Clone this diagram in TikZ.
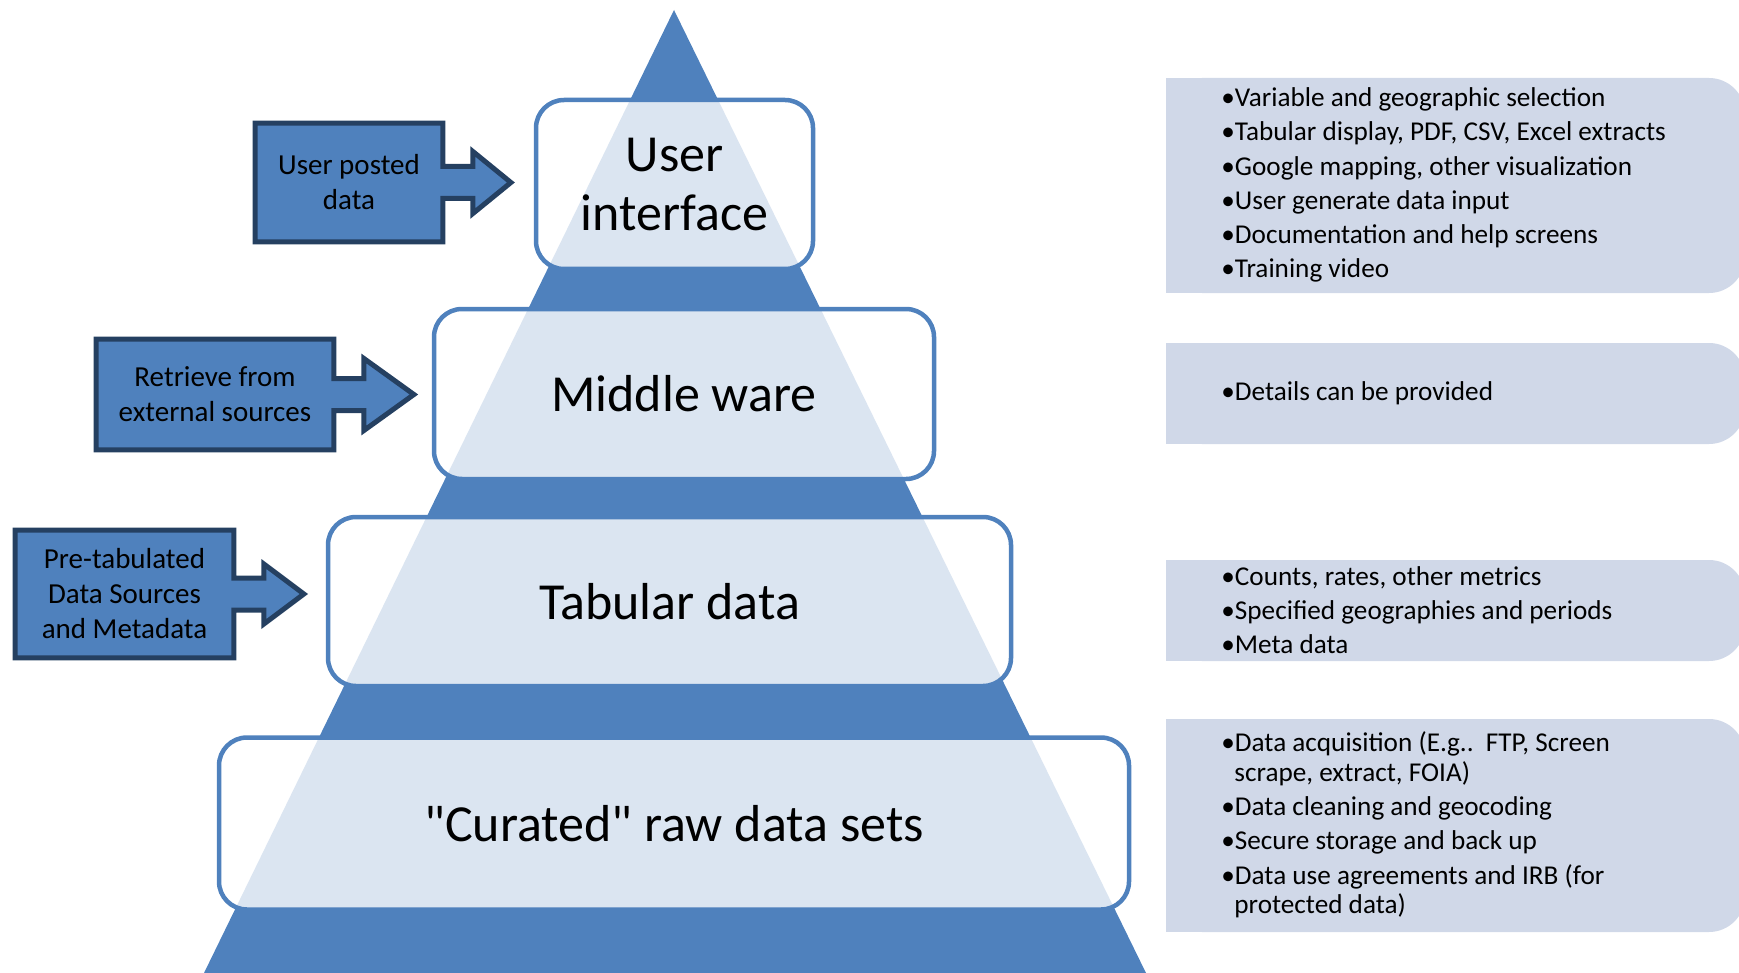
\documentclass[tikz,border=0pt]{standalone}
\usepackage{fontspec}
\setmainfont{Carlito}[Ligatures=TeXOff]
\usetikzlibrary{backgrounds}
\definecolor{pyrblue}{RGB}{79,129,189}
\definecolor{navy}{RGB}{37,64,97}
\definecolor{notefill}{RGB}{208,216,232}
\tikzset{
  layer/.style={draw=pyrblue, line width=2.25pt, fill=white, fill opacity=0.8, text opacity=1,
    rounded corners=14pt, align=center, inner sep=0pt, font=\fontsize{26}{29.5}\selectfont},
  srcbox/.style={inner sep=0pt, align=center, font=\fontsize{14.5}{17.5}\selectfont},
  srcline/.style={fill=pyrblue, draw=navy, line width=2.5pt, line join=miter},
  notetext/.style={anchor=west, inner sep=0pt, align=left, font=\fontsize{13.6}{14.75}\selectfont}
}
\newcommand{\srcarrow}[3]{%
  \path[srcline] (#1.north west) -- (#1.north east) -- ([yshift=8pt]#1.east)
    -- ([xshift=15pt,yshift=8pt]#1.east) -- ([xshift=15pt,yshift=#2]#1.east)
    -- ([xshift=#3]#1.east) -- ([xshift=15pt,yshift=-#2]#1.east)
    -- ([xshift=15pt,yshift=-8pt]#1.east) -- ([yshift=-8pt]#1.east)
    -- (#1.south east) -- (#1.south west) -- cycle;}
\begin{document}
\begin{tikzpicture}[x=0.5pt,y=-0.5pt]
    \useasboundingbox (0,0) rectangle (1739,973);
    \coordinate (top) at (674,10);
    \coordinate (bl) at (204,973);
    \coordinate (br) at (1146,973);
    \fill[pyrblue] (top) -- (bl) -- (br) -- cycle;

    \node[layer, minimum width=138.5pt, minimum height=84.5pt] (ui) at (674.5,184.5) {User\\interface};
    \node[layer, minimum width=250pt, minimum height=85pt] (mw) at (684,394) {Middle ware};
    \node[layer, minimum width=341.5pt, minimum height=84.5pt] (tab) at (669.5,601.5) {Tabular data};
    \node[layer, minimum width=455pt, minimum height=86pt] (raw) at (674,823.5) {"Curated" raw data sets};

    \node[srcbox, minimum width=93.5pt, minimum height=59pt] (posted) at (349,182.5) {User posted\\data};
    \node[srcbox, minimum width=118.5pt, minimum height=55pt] (ext) at (215,394.5) {Retrieve from\\external sources};
    \node[srcbox, minimum width=109pt, minimum height=63.5pt] (pretab) at (124.5,594) {Pre-tabulated\\Data Sources\\and Metadata};
    \begin{scope}[on background layer]
        \srcarrow{posted}{15.5pt}{34pt}
        \srcarrow{ext}{18pt}{40pt}
        \srcarrow{pretab}{15pt}{35pt}
    \end{scope}

    \foreach \t/\b in {78/293,343/444,560/661,719/932}{
        \fill[notefill, rounded corners=18pt] (1166,\t) rectangle (1745,\b);
        \fill[notefill] (1166,\t) rectangle (1200,\b);
    }
    \node[notetext] (uinotes) at (1221,185) {•Variable and geographic selection\\[2.35pt]
        •Tabular display, PDF, CSV, Excel extracts\\[2.35pt]
        •Google mapping, other visualization\\[2.35pt]
        •User generate data input\\[2.35pt]
        •Documentation and help screens\\[2.35pt]
        •Training video};
    \node[notetext] (mwnotes) at (1221,393.5) {•Details can be provided};
    \node[notetext] (tabnotes) at (1221,610) {•Counts, rates, other metrics\\[2.35pt]
        •Specified geographies and periods\\[2.35pt]
        •Meta data};
    \node[notetext] (rawnotes) at (1221,825) {•Data acquisition (E.g..\ \ FTP, Screen\\
        \hspace*{6.5pt}scrape, extract, FOIA)\\[2.35pt]
        •Data cleaning and geocoding\\[2.35pt]
        •Secure storage and back up\\[2.35pt]
        •Data use agreements and IRB (for\\
        \hspace*{6.5pt}protected data)};
\end{tikzpicture}
\end{document}
